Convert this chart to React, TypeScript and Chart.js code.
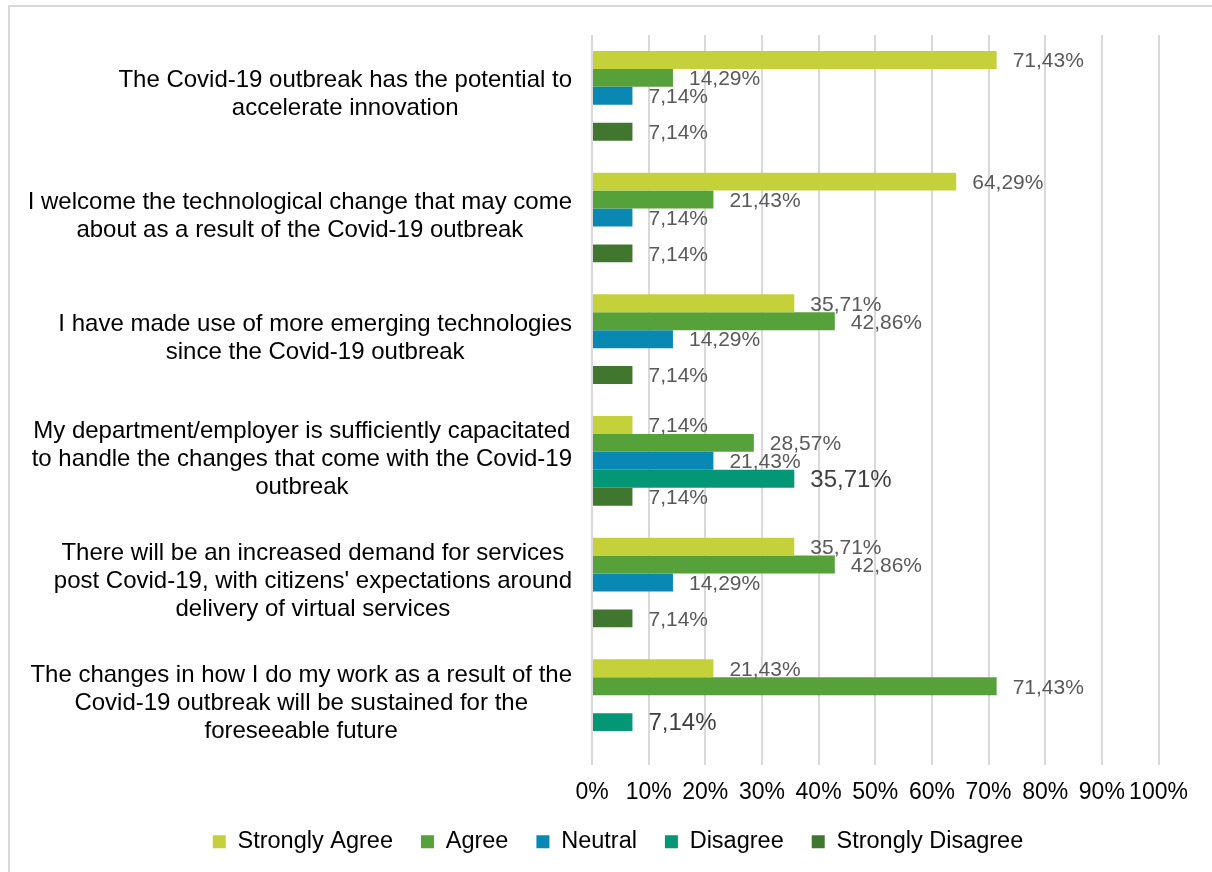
import React, { useEffect, useRef } from "react";
import { Chart, registerables } from "chart.js";

Chart.register(...registerables);

const FONT = "'Liberation Sans', Arial, sans-serif";

// Survey statements, one entry per line of the wrapped label
const categories: string[][] = [
  ["The Covid-19 outbreak has the potential to", "accelerate innovation"],
  ["I welcome the technological change that may come", "about as a result of the Covid-19 outbreak"],
  ["I have made use of more emerging technologies", "since the Covid-19 outbreak"],
  [
    "My department/employer is sufficiently capacitated",
    "to handle the changes that come with the Covid-19",
    "outbreak",
  ],
  [
    "There will be an increased demand for services",
    "post Covid-19, with citizens' expectations around",
    "delivery of virtual services",
  ],
  [
    "The changes in how I do my work as a result of the",
    "Covid-19 outbreak will be sustained for the",
    "foreseeable future",
  ],
];

const seriesNames = ["Strongly Agree", "Agree", "Neutral", "Disagree", "Strongly Disagree"];
const seriesColors = ["#C5D13B", "#56A13A", "#0A88B4", "#039775", "#40762D"];

// Share of respondents (%), null where nobody chose the option
const stronglyAgree = [71.43, 64.29, 35.71, 7.14, 35.71, 21.43];
const agree = [14.29, 21.43, 42.86, 28.57, 42.86, 71.43];
const neutral = [7.14, 7.14, 14.29, 21.43, 14.29, null];
const disagree = [null, null, null, 35.71, null, 7.14];
const stronglyDisagree = [7.14, 7.14, 7.14, 7.14, 7.14, null];

const xMin = 0;
const xMax = 100;
const xStep = 10;

const formatPct = (v: number) => v.toFixed(2).replace(".", ",") + "%";

// Value labels placed just past the end of each bar
const valueLabels = {
  id: "valueLabels",
  afterDatasetsDraw(chart: any) {
    const ctx = chart.ctx;
    chart.data.datasets.forEach((ds: any, di: number) => {
      const meta = chart.getDatasetMeta(di);
      meta.data.forEach((bar: any, i: number) => {
        const v = ds.data[i];
        if (v == null) return;
        const emphasised = di === 3;
        ctx.save();
        ctx.font = `${emphasised ? 24 : 21}px ${FONT}`;
        ctx.fillStyle = emphasised ? "#404040" : "#595959";
        ctx.textAlign = "left";
        ctx.textBaseline = "middle";
        ctx.fillText(formatPct(v), bar.x + 16, bar.y + 1.5);
        ctx.restore();
      });
    });
  },
};

// Wrapped statement labels: block right-aligned to the axis, lines centred in the block
const statementLabels = {
  id: "statementLabels",
  afterDraw(chart: any) {
    const ctx = chart.ctx;
    const yScale = chart.scales.y;
    const right = chart.chartArea.left - 20;
    const lineHeight = 28;
    ctx.save();
    ctx.font = `24px ${FONT}`;
    ctx.fillStyle = "#000000";
    ctx.textAlign = "center";
    ctx.textBaseline = "middle";
    categories.forEach((lines, i) => {
      const cy = yScale.getPixelForTick(i) - 1;
      const w = Math.max(...lines.map((l) => ctx.measureText(l).width));
      const cx = right - w / 2;
      lines.forEach((line, k) => {
        ctx.fillText(line, cx, cy + (k - (lines.length - 1) / 2) * lineHeight);
      });
    });
    ctx.restore();
  },
};

export default function App() {
  const canvasRef = useRef<HTMLCanvasElement | null>(null);

  useEffect(() => {
    if (!canvasRef.current) return;
    const values = [stronglyAgree, agree, neutral, disagree, stronglyDisagree];
    const chart = new Chart(canvasRef.current, {
      type: "bar",
      data: {
        labels: categories.map((c) => c.join(" ")),
        datasets: seriesNames.map((name, i) => ({
          label: name,
          data: values[i],
          backgroundColor: seriesColors[i],
          borderWidth: 0,
          categoryPercentage: 0.737,
          barPercentage: 1,
        })),
      },
      options: {
        indexAxis: "y",
        responsive: false,
        animation: false,
        layout: { padding: { left: 77.5, right: 53.5, top: 35, bottom: 8.5 } },
        scales: {
          x: {
            min: xMin,
            max: xMax,
            ticks: {
              stepSize: xStep,
              callback: (v: any) => v + "%",
              font: { size: 23, family: FONT },
              color: "#000000",
              padding: 14,
              maxRotation: 0,
              autoSkip: false,
            },
            grid: { color: "#D9D9D9", lineWidth: 2, drawTicks: false },
            border: { display: false },
            afterFit: (s: any) => {
              s.height = 37;
            },
          },
          y: {
            ticks: { display: false },
            grid: { display: false },
            border: { display: false },
            afterFit: (s: any) => {
              s.width = 514.5;
            },
          },
        },
        plugins: {
          legend: {
            position: "bottom",
            labels: {
              boxWidth: 13,
              boxHeight: 13,
              padding: 28,
              font: { size: 23.5, family: FONT },
              color: "#000000",
            },
          },
          tooltip: { enabled: false },
        },
      },
      plugins: [valueLabels, statementLabels],
    });
    return () => chart.destroy();
  }, []);

  return (
    <>
      <div
        style={{
          position: "fixed",
          left: 8,
          top: 5,
          width: 1400,
          height: 1000,
          borderTop: "2px solid #D9D9D9",
          borderLeft: "2px solid #D9D9D9",
          boxSizing: "border-box",
          background: "#FFFFFF",
        }}
      />
      <canvas
        ref={canvasRef}
        width={1212}
        height={872}
        style={{ position: "fixed", left: 0, top: 0, width: 1212, height: 872 }}
      />
    </>
  );
}
